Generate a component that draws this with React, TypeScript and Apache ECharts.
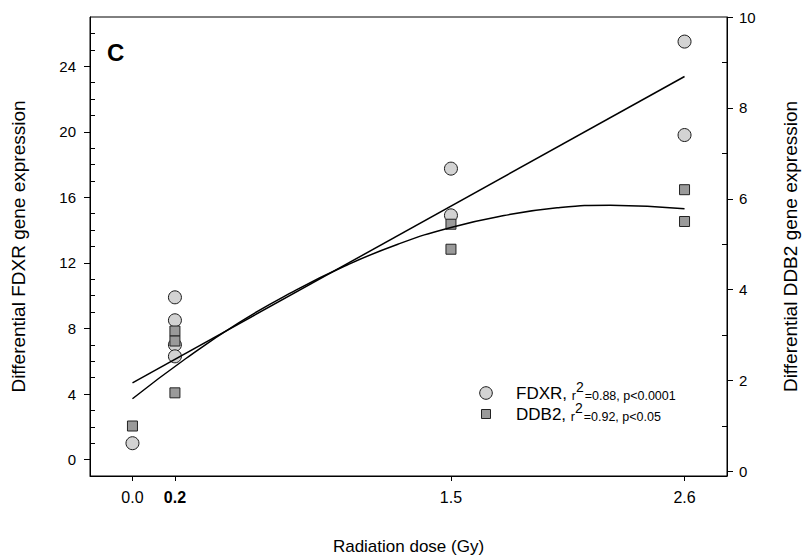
import React, { useEffect, useRef } from 'react';
import * as echarts from 'echarts';

// Tick values
const doseTicks = [0, 0.2, 1.5, 2.6];
const leftMajorTicks = [0, 4, 8, 12, 16, 20, 24];
const leftMinorTicks = [1, 2, 3, 5, 6, 7, 9, 10, 11, 13, 14, 15, 17, 18, 19, 21, 22, 23, 25, 26];
const rightMajorTicks = [0, 2, 4, 6, 8, 10];
const rightMinorTicks = [1, 3, 5, 7, 9];

// FDXR measurements (left axis)
const fdxrDose = [0, 0.2, 0.2, 0.2, 0.2, 1.5, 1.5, 2.6, 2.6];
const fdxrValue = [1.0, 9.9, 8.5, 7.0, 6.3, 17.75, 14.9, 25.5, 19.8];

// DDB2 measurements (right axis)
const ddb2Dose = [0, 0.2, 0.2, 0.2, 1.5, 1.5, 2.6, 2.6];
const ddb2Value = [1.0, 3.09, 2.87, 1.73, 5.44, 4.89, 6.2, 5.5];

// Fitted lines
const fdxrFitDose = [0, 2.6];
const fdxrFitValue = [4.68, 23.37];
const ddb2FitDose = [0, 0.25, 0.5, 0.75, 1.0, 1.25, 1.5, 1.75, 2.0, 2.25, 2.6];
const ddb2FitValue = [1.6, 2.48, 3.27, 3.94, 4.52, 5.0, 5.37, 5.63, 5.8, 5.86, 5.78];

const FONT = 'Liberation Sans, Arial, Helvetica, sans-serif';

export default function App() {
  const ref = useRef<HTMLDivElement>(null);

  useEffect(() => {
    const chart = echarts.init(ref.current!, null, { renderer: 'svg' });
    const black = '#000';
    const hiddenMinor = (position: string, ticks: number[], min: number, max: number) => ({
      type: 'value',
      position,
      min,
      max,
      axisLine: { show: false, onZero: false },
      axisTick: { show: true, inside: true, customValues: ticks, length: 5, lineStyle: { color: black, width: 1 } },
      axisLabel: { show: false },
      splitLine: { show: false },
    });
    const legendRich = {
      a: { fontSize: 17, fontFamily: FONT, fill: black, verticalAlign: 'bottom' },
      r: { fontSize: 12.5, fontFamily: FONT, fill: black, verticalAlign: 'bottom' },
      s: { fontSize: 14, fontFamily: FONT, fill: black, verticalAlign: 'bottom', padding: [0, 1, 8, 0] },
      b: { fontSize: 12.5, fontFamily: FONT, fill: black, verticalAlign: 'bottom' },
    };

    chart.setOption({
      animation: false,
      backgroundColor: '#fff',
      grid: {
        left: 90,
        right: 82,
        top: 17,
        bottom: 83,
        show: true,
        borderColor: black,
        borderWidth: 1,
        backgroundColor: 'transparent',
      },
      xAxis: {
        type: 'value',
        min: -0.2,
        max: 2.8,
        axisLine: { show: true, onZero: false, lineStyle: { color: black, width: 1 } },
        axisTick: { show: true, customValues: doseTicks, length: 5, lineStyle: { color: black } },
        axisLabel: {
          customValues: doseTicks,
          margin: 13,
          fontSize: 16,
          color: black,
          fontFamily: FONT,
          formatter: (v: number) => (Math.abs(v - 0.2) < 1e-9 ? '{b|0.2}' : v.toFixed(1)),
          rich: { b: { fontSize: 16, fontWeight: 'bold', color: black, fontFamily: FONT } },
        },
        splitLine: { show: false },
        name: 'Radiation dose (Gy)',
        nameLocation: 'middle',
        nameGap: 62,
        nameTextStyle: { fontSize: 17, color: black, fontFamily: FONT },
      },
      yAxis: [
        {
          type: 'value',
          position: 'left',
          min: -1,
          max: 27,
          axisLine: { show: true, onZero: false, lineStyle: { color: black, width: 1 } },
          axisTick: { show: true, customValues: leftMajorTicks, length: 6, lineStyle: { color: black } },
          axisLabel: { customValues: leftMajorTicks, margin: 14, fontSize: 15, color: black, fontFamily: FONT },
          splitLine: { show: false },
          name: 'Differential FDXR gene expression',
          nameLocation: 'middle',
          nameRotate: 90,
          nameGap: 62,
          nameTextStyle: { fontSize: 19, color: black, fontFamily: FONT },
        },
        hiddenMinor('left', leftMinorTicks, -1, 27),
        {
          type: 'value',
          position: 'right',
          min: -0.1,
          max: 10,
          axisLine: { show: true, onZero: false, lineStyle: { color: black, width: 1 } },
          axisTick: { show: true, customValues: rightMajorTicks, length: 6, lineStyle: { color: black } },
          axisLabel: { customValues: rightMajorTicks, margin: 12, fontSize: 15, color: black, fontFamily: FONT },
          splitLine: { show: false },
          name: 'Differential DDB2 gene expression',
          nameLocation: 'middle',
          nameRotate: 90,
          nameGap: 54,
          nameTextStyle: { fontSize: 19, color: black, fontFamily: FONT },
        },
        hiddenMinor('right', rightMinorTicks, -0.1, 10),
      ],
      series: [
        {
          type: 'scatter',
          name: 'FDXR',
          yAxisIndex: 0,
          data: fdxrDose.map((d, i) => [d, fdxrValue[i]]),
          symbol: 'circle',
          symbolSize: 13,
          itemStyle: { color: '#d3d3d3', borderColor: '#1a1a1a', borderWidth: 1, opacity: 1 },
          z: 2,
        },
        {
          type: 'scatter',
          name: 'DDB2',
          yAxisIndex: 2,
          data: ddb2Dose.map((d, i) => [d, ddb2Value[i]]),
          symbol: 'rect',
          symbolSize: 10,
          itemStyle: { color: '#9a9a9a', borderColor: '#222', borderWidth: 1, opacity: 1 },
          z: 3,
        },
        {
          type: 'line',
          yAxisIndex: 0,
          data: fdxrFitDose.map((d, i) => [d, fdxrFitValue[i]]),
          symbol: 'none',
          lineStyle: { color: black, width: 1.5 },
          z: 4,
        },
        {
          type: 'line',
          yAxisIndex: 2,
          data: ddb2FitDose.map((d, i) => [d, ddb2FitValue[i]]),
          symbol: 'none',
          smooth: true,
          lineStyle: { color: black, width: 1.5 },
          z: 4,
        },
      ],
      graphic: [
        {
          type: 'text',
          left: 107,
          top: 40,
          style: { text: 'C', fontSize: 24, fontWeight: 'bold', fill: black, fontFamily: FONT },
        },
        {
          type: 'circle',
          shape: { cx: 486, cy: 393, r: 6.3 },
          style: { fill: '#d3d3d3', stroke: '#1a1a1a', lineWidth: 1 },
        },
        {
          type: 'rect',
          shape: { x: 481.5, y: 409.5, width: 9, height: 9 },
          style: { fill: '#9a9a9a', stroke: '#222', lineWidth: 1 },
        },
        {
          type: 'text',
          x: 516,
          y: 391,
          style: {
            text: '{a|FDXR, }{r|r}{s|2}{b|=0.88, p<0.0001}',
            verticalAlign: 'middle',
            rich: legendRich,
          },
        },
        {
          type: 'text',
          x: 516,
          y: 412,
          style: {
            text: '{a|DDB2, }{r|r}{s|2}{b|=0.92, p<0.05}',
            verticalAlign: 'middle',
            rich: legendRich,
          },
        },
      ],
    });

    return () => chart.dispose();
  }, []);

  return (
    <div
      ref={ref}
      style={{ position: 'fixed', left: 0, top: 0, width: 809, height: 560, background: '#fff' }}
    />
  );
}
